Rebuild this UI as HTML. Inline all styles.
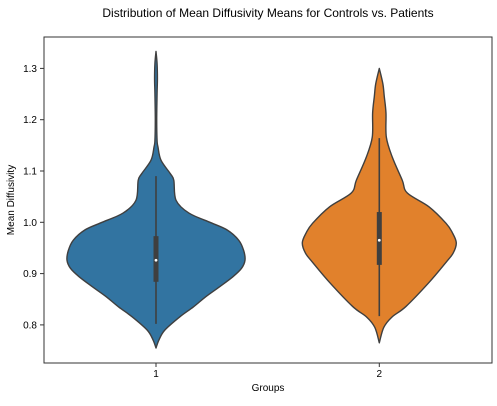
<!DOCTYPE html>
<html><head><meta charset="utf-8"><style>
body{margin:0;background:#fff;}
svg text{font-family:"Liberation Sans","DejaVu Sans",sans-serif;fill:#000;}
</style></head><body>
<svg id="chart" width="497" height="401" viewBox="0 0 497 401" xmlns="http://www.w3.org/2000/svg">
<rect width="497" height="401" fill="#fff"/>
<text x="268" y="17" text-anchor="middle" font-size="12">Distribution of Mean Diffusivity Means for Controls vs. Patients</text>
<g id="plot"></g>
<rect x="44" y="37" width="448" height="326" fill="none" stroke="#333" stroke-width="1"/>
<text transform="translate(14,200) rotate(-90)" text-anchor="middle" font-size="10">Mean Diffusivity</text>
<text x="268" y="391" text-anchor="middle" font-size="10">Groups</text>
</svg>
<script>
const categories = ["1", "2"];
const yTicks = [0.8, 0.9, 1.0, 1.1, 1.2, 1.3];
const yTickLabels = ["0.8", "0.9", "1.0", "1.1", "1.2", "1.3"];
const colors = ["#3274a1", "#e1812c"];
// density profiles: [value, relative density]
const density1 = [[1.333,0],[1.31,0.012],[1.28,0.016],[1.25,0.012],[1.2,0.008],[1.16,0.012],[1.147,0.022],[1.121,0.056],[1.095,0.16],[1.082,0.2],[1.043,0.225],[1.018,0.37],[0.999,0.62],[0.985,0.8],[0.965,0.93],[0.945,0.985],[0.926,1.0],[0.91,0.96],[0.894,0.865],[0.875,0.72],[0.855,0.56],[0.835,0.42],[0.816,0.27],[0.79,0.1],[0.771,0.034],[0.755,0]];
const density2 = [[1.30,0],[1.27,0.04],[1.245,0.056],[1.213,0.075],[1.166,0.079],[1.127,0.146],[1.082,0.258],[1.057,0.315],[1.030,0.56],[0.998,0.75],[0.98,0.82],[0.96,0.865],[0.94,0.83],[0.922,0.75],[0.883,0.56],[0.836,0.3],[0.815,0.14],[0.795,0.05],[0.765,0]];
const boxStats1 = [0.802, 0.884, 0.926, 0.973, 1.09]; // whisker-low, q1, median, q3, whisker-high
const boxStats2 = [0.817, 0.917, 0.965, 1.02, 1.164];
const densities = [density1, density2];
const boxes = [boxStats1, boxStats2];

const NS = "http://www.w3.org/2000/svg";
const plot = document.getElementById("plot");
const svg = document.getElementById("chart");
function yScale(v){ return 222.3 - (v - 1.0) * 513; }
function xScale(i){ return 156 + i * 223.3; }
const widthScale = 89;
function mk(tag, attrs){ const e = document.createElementNS(NS, tag); for (const k in attrs) e.setAttribute(k, attrs[k]); return e; }
function smooth(pts){
  let d = "M" + pts[0][0] + "," + pts[0][1];
  for (let i = 0; i < pts.length - 1; i++){
    const p0 = pts[Math.max(0,i-1)], p1 = pts[i], p2 = pts[i+1], p3 = pts[Math.min(pts.length-1,i+2)];
    const c1x = p1[0] + (p2[0]-p0[0])/6, c1y = p1[1] + (p2[1]-p0[1])/6;
    const c2x = p2[0] - (p3[0]-p1[0])/6, c2y = p2[1] - (p3[1]-p1[1])/6;
    d += " C" + c1x + "," + c1y + " " + c2x + "," + c2y + " " + p2[0] + "," + p2[1];
  }
  return d;
}
yTicks.forEach((t, i) => {
  const y = yScale(t);
  const tk = mk("line", {x1: 40, x2: 44, y1: y, y2: y, stroke: "#333"});
  
  
  svg.appendChild(tk);
  const lb = mk("text", {x: 37, y: y + 3.5, "text-anchor": "end", "font-size": 10});
  
  
  lb.textContent = yTickLabels[i];
  svg.appendChild(lb);
});
categories.forEach((c, i) => {
  const cx = xScale(i);
  const tk = mk("line", {x1: cx, x2: cx, y1: 363, y2: 367, stroke: "#333"});
  
  
  svg.appendChild(tk);
  const lb = mk("text", {x: cx, y: 377, "text-anchor": "middle", "font-size": 10});
  
  
  lb.textContent = c;
  svg.appendChild(lb);

  const dens = densities[i];
  const right = dens.map(p => [cx + p[1]*widthScale, yScale(p[0])]);
  const left = dens.slice().reverse().map(p => [cx - p[1]*widthScale, yScale(p[0])]);
  const d = smooth(right) + " L" + smooth(left).slice(1) + " Z";
  const v = mk("path", {d: d, fill: colors[i], stroke: "#3f3f3f", "stroke-width": 1.4, "stroke-linejoin": "round"});
  
  
  plot.appendChild(v);

  const b = boxes[i];
  const wh = mk("line", {x1: cx, x2: cx, y1: yScale(b[4]), y2: yScale(b[0]), stroke: "#3f3f3f", "stroke-width": 1.6});
  
  
  plot.appendChild(wh);
  const bx = mk("rect", {x: cx - 2.5, width: 5, y: yScale(b[3]), height: yScale(b[1]) - yScale(b[3]), fill: "#3f3f3f"});
  
  
  plot.appendChild(bx);
  const md = mk("circle", {cx: cx, cy: yScale(b[2]), r: 1.4, fill: "#fff"});
  
  
  plot.appendChild(md);
});
</script>
</body></html>
